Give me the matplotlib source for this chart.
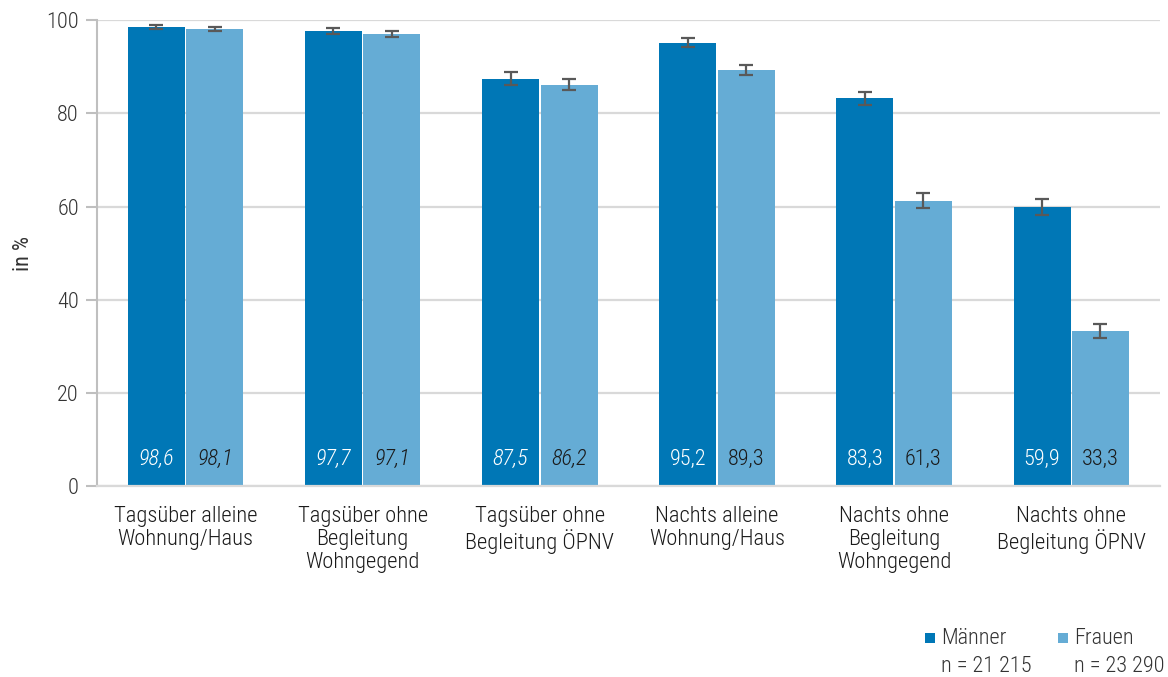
import numpy as np
import matplotlib.pyplot as plt
from matplotlib.patches import Rectangle

plt.rcParams['font.family'] = ['Roboto Condensed', 'DejaVu Sans']
plt.rcParams['font.weight'] = 300

categories = ["Tagsüber alleine\nWohnung/Haus", "Tagsüber ohne\nBegleitung\nWohngegend",
              "Tagsüber ohne\nBegleitung ÖPNV", "Nachts alleine\nWohnung/Haus",
              "Nachts ohne\nBegleitung\nWohngegend", "Nachts ohne\nBegleitung ÖPNV"]
maenner = [98.6, 97.7, 87.5, 95.2, 83.3, 59.9]
frauen = [98.1, 97.1, 86.2, 89.3, 61.3, 33.3]
maenner_err = [0.5, 0.7, 1.3, 1.0, 1.4, 1.8]
frauen_err = [0.4, 0.6, 1.2, 1.0, 1.7, 1.6]
italic_groups = [True, True, True, False, False, False]
legend_labels = ["Männer", "Frauen"]
legend_n = ["n = 21 215", "n = 23 290"]

c_m = '#0077b6'
c_f = '#65acd5'
grid_c = '#d9d9d9'
txt_c = '#333333'

fig = plt.figure(figsize=(11.68, 6.77), dpi=100)
ax = fig.add_axes([0.083, 0.282, 0.910, 0.688])

x = np.arange(len(categories))
w = 0.322
gap = 0.004
ax.bar(x - w / 2 - gap, maenner, w, color=c_m, zorder=2)
ax.bar(x + w / 2 + gap, frauen, w, color=c_f, zorder=2)
ax.errorbar(x - w / 2 - gap, maenner, yerr=maenner_err, fmt='none', ecolor='#595959',
            elinewidth=1.6, capsize=5, capthick=1.6, zorder=3)
ax.errorbar(x + w / 2 + gap, frauen, yerr=frauen_err, fmt='none', ecolor='#595959',
            elinewidth=1.6, capsize=5, capthick=1.6, zorder=3)

for i in range(len(categories)):
    style = 'italic' if italic_groups[i] else 'normal'
    ax.text(x[i] - w / 2 - gap, 5.8, f"{maenner[i]:.1f}".replace('.', ','), ha='center', va='center',
            color='white', fontsize=16, style=style, zorder=4)
    ax.text(x[i] + w / 2 + gap, 5.8, f"{frauen[i]:.1f}".replace('.', ','), ha='center', va='center',
            color='#1a1a1a', fontsize=16, style=style, zorder=4)

ax.set_ylim(0, 100)
ax.set_xlim(-0.5, len(categories) - 0.5)
ax.set_yticks([0, 20, 40, 60, 80, 100])
ax.set_xticks(x)
ax.set_xticklabels(categories, fontsize=16.2, color='#1a1a1a', linespacing=1.15)
ax.tick_params(axis='x', length=0, pad=14)
ax.tick_params(axis='y', length=8, width=1.5, color='#bfbfbf', labelsize=16, labelcolor=txt_c, pad=5)
ax.yaxis.grid(True, color=grid_c, lw=1.6, zorder=0)
ax.set_axisbelow(True)
for s in ['top', 'right']:
    ax.spines[s].set_visible(False)
ax.spines['left'].set_color('#bfbfbf')
ax.spines['left'].set_linewidth(1.5)
ax.spines['bottom'].set_color(grid_c)
ax.spines['bottom'].set_linewidth(1.6)
ax.set_ylabel("in %", fontsize=16, color=txt_c, labelpad=9)

# legend
for lx, col, lab, n in zip([0.792, 0.906], [c_m, c_f], legend_labels, legend_n):
    fig.patches.append(Rectangle((lx, 0.050), 0.0085, 0.0145, transform=fig.transFigure,
                                 facecolor=col, edgecolor='none'))
    fig.text(lx + 0.0135, 0.057, lab, fontsize=16, color=txt_c, va='center')
    fig.text(lx + 0.0135, 0.016, n, fontsize=16, color=txt_c, va='center')

fig.savefig("out.png", dpi=100)
